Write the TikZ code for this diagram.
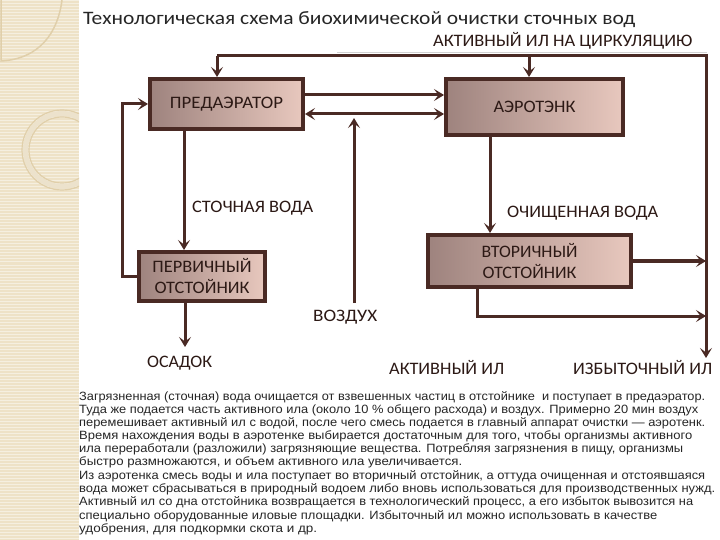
\documentclass[tikz,border=0pt]{standalone}
\usepackage{fontspec}
\setmainfont{Carlito}
\newfontfamily\parafont{Liberation Sans}
\usetikzlibrary{arrows.meta}
\definecolor{ln}{HTML}{4A2A24}
\definecolor{txt}{HTML}{2C1915}
\definecolor{boxl}{HTML}{9E837E}
\definecolor{boxr}{HTML}{E8C8BE}
\definecolor{strip}{HTML}{EEE2C7}
\definecolor{stripln}{HTML}{E0CFAA}
\newcommand{\fw}[2]{\resizebox{#1bp}{\height}{#2}}
\tikzset{
  arr/.tip={Stealth[length=10bp,width=12bp,inset=4.5bp]},
  conn/.style={draw=ln,line width=3bp},
  proc/.style={draw=ln,line width=4bp,left color=boxl,right color=boxr,inner sep=0pt,
    text=txt,align=center,font=\fontsize{17.5bp}{21bp}\selectfont},
  lbl/.style={inner sep=0pt,anchor=base west,text=txt,font=\fontsize{17.5bp}{21bp}\selectfont},
  para/.style={inner sep=0pt,anchor=west,text=black!85,font=\parafont\fontsize{12bp}{13bp}\selectfont}
}
\begin{document}
\begin{tikzpicture}[x=1bp,y=-1bp]
\path[use as bounding box,fill=white] (0,0) rectangle (720,540);
% decorative strip
\fill[strip] (0,0) rectangle (79,540);
\foreach \i in {1,4,...,540} \draw[white,opacity=0.45,line width=1bp] (0,\i) -- (79,\i);
\begin{scope}
\clip (0,0) rectangle (79,540);
\draw[stripln,line width=1.5bp] (1,0) -- (1,61) .. controls (40,59) and (58,32) .. (62,0);
\draw[stripln,line width=1.2bp] (62,150) circle (40);
\draw[stripln,line width=1.2bp] (62,150) circle (33);
\draw[stripln!60,line width=5bp] (62,150) circle (36.5);
\end{scope}
% titles
\node[lbl,font=\fontsize{19bp}{22bp}\selectfont,text=black!85] (title) at (83,24.5) {\fw{552}{Технологическая схема биохимической очистки сточных вод}};
\node[lbl] (circ) at (433,47) {\fw{259}{АКТИВНЫЙ ИЛ НА ЦИРКУЛЯЦИЮ}};
% boxes
\node[proc,minimum width=153bp,minimum height=50bp] (pre) at (226.5,104) {\fw{113}{ПРЕДАЭРАТОР}};
\node[proc,minimum width=177bp,minimum height=56bp] (aero) at (534.5,107) {\fw{82}{АЭРОТЭНК}};
\node[proc,minimum width=126bp,minimum height=49bp] (perv) at (202,276.5) {\fw{99}{ПЕРВИЧНЫЙ}\\\fw{95}{ОТСТОЙНИК}};
\node[proc,minimum width=203bp,minimum height=52bp] (vtor) at (529.5,261) {\fw{96}{ВТОРИЧНЫЙ}\\\fw{94}{ОТСТОЙНИК}};
% labels
\node[lbl] (sv) at (192,213) {\fw{121}{СТОЧНАЯ ВОДА}};
\node[lbl] (ov) at (507,218) {\fw{151}{ОЧИЩЕННАЯ ВОДА}};
\node[lbl] (vozd) at (313,321) {\fw{64}{ВОЗДУХ}};
\node[lbl] (osad) at (147,367) {\fw{65}{ОСАДОК}};
\node[lbl] (ail) at (389,374) {\fw{115}{АКТИВНЫЙ ИЛ}};
\node[lbl] (iil) at (573,374) {\fw{139}{ИЗБЫТОЧНЫЙ ИЛ}};
% coordinates
\coordinate (tl) at (217,56);
\coordinate (tr) at (706,56);
\coordinate (rb) at (706,358);
\coordinate (ta) at (529,56);
\coordinate (p1) at (184,0);
\coordinate (up) at (0,95);
\coordinate (lo) at (0,114);
\coordinate (air) at (354,303);
\coordinate (airtip) at (354,118);
\coordinate (a1) at (490,0);
\coordinate (v1) at (477,316);
\coordinate (osadtip) at (185,347);
% connectors
\draw[gray!35,line width=0.7bp] (337,52.5) -- (707,52.5);
\draw[conn,-{arr}] (tl) -- (tr) -- (rb);
\draw[conn,-{arr}] (tl) -- (tl |- pre.north);
\draw[conn,-{arr}] (ta) -- (ta |- aero.north);
\draw[conn,-{arr}] (perv.west) -- ++(-15,0) |- (pre.west);
\draw[conn,-{arr}] (p1 |- pre.south) -- (p1 |- perv.north);
\draw[conn,-{arr}] (pre.east |- up) -- (aero.west |- up);
\draw[conn,{arr}-{arr}] (pre.east |- lo) -- (aero.west |- lo);
\draw[conn,-{arr}] (air) -- (airtip);
\draw[conn,-{arr}] (a1 |- aero.south) -- (a1 |- vtor.north);
\draw[conn,-{arr}] (vtor.east) -- (vtor.east -| rb);
\draw[conn,-{arr}] (v1 |- vtor.south) -- (v1) -- (v1 -| rb);
\draw[conn,-{arr}] (osadtip |- perv.south) -- (osadtip);
% paragraph
\node[para] (l1) at (79,397) {\fw{626}{Загрязненная (сточная) вода очищается от взвешенных частиц в отстойнике \ и поступает в предаэратор.}};
\node[para] (l2) at (79,410) {\fw{619}{Туда же подается часть активного ила (около 10 \% общего расхода) и воздух. Примерно 20 мин воздух}};
\node[para] (l3) at (79,423) {\fw{626}{перемешивает активный ил с водой, после чего смесь подается в главный аппарат очистки — аэротенк.}};
\node[para] (l4) at (79,436) {\fw{613}{Время нахождения воды в аэротенке выбирается достаточным для того, чтобы организмы активного}};
\node[para] (l5) at (79,449) {\fw{604}{ила переработали (разложили) загрязняющие вещества. Потребляя загрязнения в пищу, организмы}};
\node[para] (l6) at (79,462.5) {\fw{383}{быстро размножаются, и объем активного ила увеличивается.}};
\node[para] (l7) at (79,476) {\fw{626}{Из аэротенка смесь воды и ила поступает во вторичный отстойник, а оттуда очищенная и отстоявшаяся}};
\node[para] (l8) at (79,489) {\fw{636}{вода может сбрасываться в природный водоем либо вновь использоваться для производственных нужд.}};
\node[para] (l9) at (79,502.5) {\fw{614}{Активный ил со дна отстойника возвращается в технологический процесс, а его избыток вывозится на}};
\node[para] (l10) at (79,516) {\fw{578}{специально оборудованные иловые площадки. Избыточный ил можно использовать в качестве}};
\node[para] (l11) at (79,529.5) {\fw{238}{удобрения, для подкормки скота и др.}};
\end{tikzpicture}
\end{document}
